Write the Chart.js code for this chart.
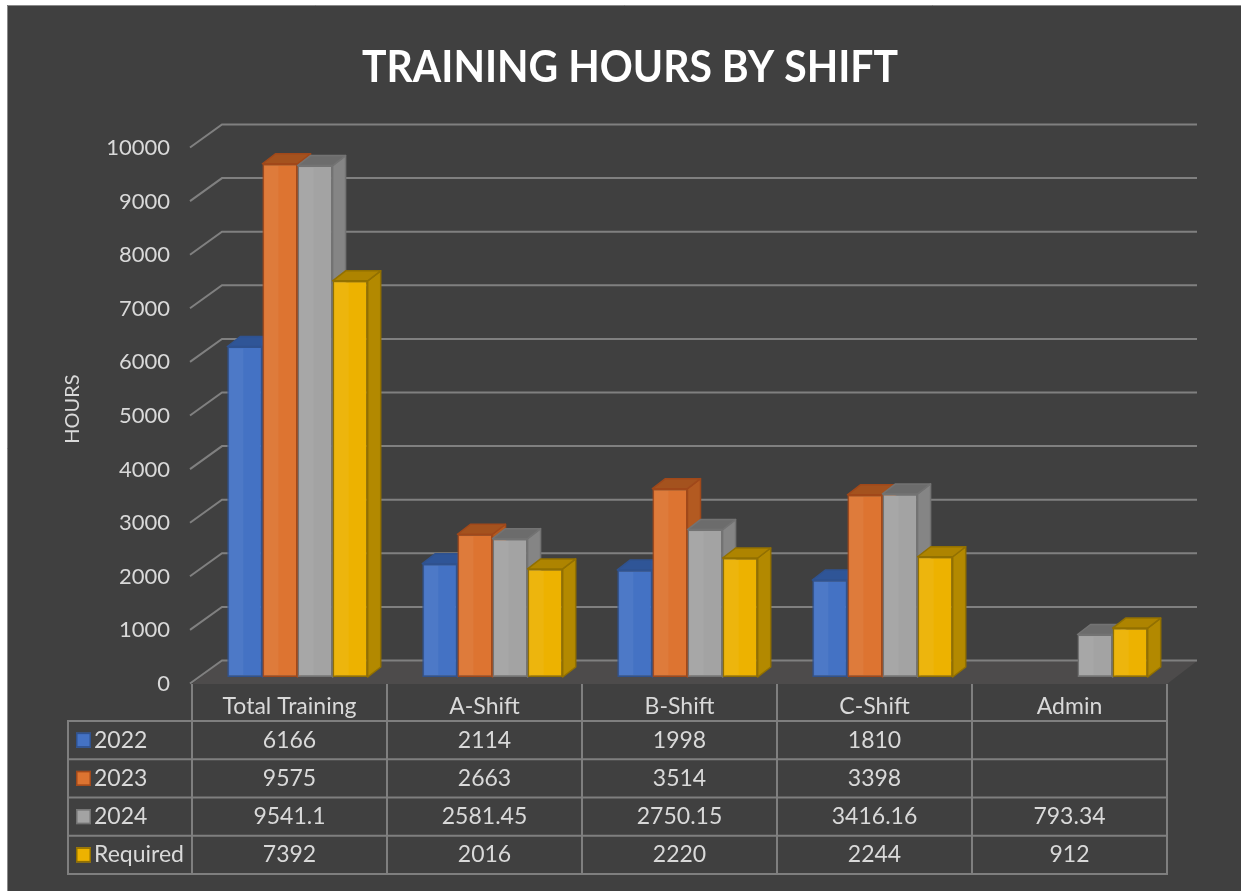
<!DOCTYPE html>
<html>
<head>
<meta charset="utf-8">
<script src="https://cdn.jsdelivr.net/npm/chart.js@4.4.1/dist/chart.umd.min.js"></script>
<style>
html,body{margin:0;padding:0;background:#ffffff;}
canvas{display:block;}
</style>
</head>
<body>
<canvas id="c" width="1241" height="891"></canvas>
<script>
// ---- data ----
const chartTitle = 'TRAINING HOURS BY SHIFT';
const yAxisTitle = 'HOURS';
const categories = ['Total Training', 'A-Shift', 'B-Shift', 'C-Shift', 'Admin'];
const seriesNames = ['2022', '2023', '2024', 'Required'];
const values2022 = [6166, 2114, 1998, 1810, null];
const values2023 = [9575, 2663, 3514, 3398, null];
const values2024 = [9541.1, 2581.45, 2750.15, 3416.16, 793.34];
const valuesRequired = [7392, 2016, 2220, 2244, 912];
const yMin = 0;
const yMax = 10000;
const yStep = 1000;

// ---- styles ----
const FONT = 'Lato, "Open Sans", sans-serif';
const TEXT = '#d9d9d9';
const GRID = '#808080';
const palette = [
  {front: '#4472C4', top: '#2F5597', side: '#2F5597', border: '#2F528F'},
  {front: '#DD7431', top: '#A4521E', side: '#B35A21', border: '#A0481A'},
  {front: '#A3A3A3', top: '#6C6C6C', side: '#858585', border: '#737373'},
  {front: '#EDB200', top: '#AE8400', side: '#B38900', border: '#927000'}
];
const seriesValues = [values2022, values2023, values2024, valuesRequired];
const DX = 13, DY = 10;

const deco = {
  id: 'deco',
  beforeDraw(chart) {
    const {ctx, chartArea: a, scales: {y}} = chart;
    ctx.save();
    ctx.fillStyle = '#ffffff';
    ctx.fillRect(0, 0, chart.width, chart.height);
    ctx.fillStyle = '#404040';
    ctx.fillRect(7, 5, chart.width - 7, chart.height - 5);
    ctx.strokeStyle = '#8a8a8a';
    ctx.lineWidth = 1;
    ctx.beginPath();
    ctx.moveTo(7.5, chart.height); ctx.lineTo(7.5, 5.5); ctx.lineTo(chart.width, 5.5);
    ctx.stroke();
    // floor
    const y0 = y.getPixelForValue(0);
    const fl = a.left - 8, fr = a.right - 8, bl = a.left + 22, br = a.right + 22;
    ctx.fillStyle = '#4d4b4b';
    ctx.beginPath();
    ctx.moveTo(fl, y0 + 7); ctx.lineTo(fr, y0 + 7); ctx.lineTo(br, y0 - 16); ctx.lineTo(bl, y0 - 16);
    ctx.closePath(); ctx.fill();
    // 3D gridlines
    ctx.strokeStyle = GRID;
    ctx.lineWidth = 2;
    y.ticks.forEach(t => {
      const yp = y.getPixelForValue(t.value);
      ctx.beginPath();
      ctx.moveTo(fl - 2, yp + 6.5); ctx.lineTo(bl, yp - 16.5); ctx.lineTo(br, yp - 16.5);
      ctx.stroke();
    });
    ctx.restore();
  },
  beforeDatasetsDraw(chart) {
    const ctx = chart.ctx;
    const items = [];
    chart.data.datasets.forEach((ds, i) => {
      const meta = chart.getDatasetMeta(i);
      if (meta.hidden) return;
      meta.data.forEach((el, j) => {
        if (ds.data[j] == null) return;
        items.push({el, p: palette[i]});
      });
    });
    items.sort((m, n) => m.el.x - n.el.x);
    ctx.save();
    ctx.lineJoin = 'round';
    items.forEach(({el, p}) => {
      const w = el.width, l = el.x - w / 2, r = el.x + w / 2, t = el.y, b = el.base;
      ctx.lineWidth = 1.5;
      ctx.strokeStyle = p.border;
      ctx.fillStyle = p.side;
      ctx.beginPath();
      ctx.moveTo(r, b); ctx.lineTo(r, t); ctx.lineTo(r + DX, t - DY); ctx.lineTo(r + DX, b - DY);
      ctx.closePath(); ctx.fill(); ctx.stroke();
      ctx.fillStyle = p.top;
      ctx.beginPath();
      ctx.moveTo(l, t); ctx.lineTo(l + DX, t - DY); ctx.lineTo(r + DX, t - DY); ctx.lineTo(r, t);
      ctx.closePath(); ctx.fill(); ctx.stroke();
      el.draw(ctx);
      ctx.fillStyle = 'rgba(255,255,255,0.05)';
      ctx.fillRect(l + 2, t + 2, w * 0.4, b - t - 4);
    });
    ctx.restore();
    return false;
  },
  afterDraw(chart) {
    const {ctx, scales: {x, y}} = chart;
    ctx.save();
    // title
    ctx.font = 'bold 44px ' + FONT;
    ctx.fillStyle = '#ffffff';
    ctx.textBaseline = 'alphabetic';
    ctx.textAlign = 'center';
    const tw = ctx.measureText(chartTitle).width;
    const sx = Math.min(1, 536 / tw);
    ctx.translate(630, 82);
    ctx.scale(sx, 1);
    ctx.fillText(chartTitle, 0, 0);
    ctx.restore();

    // data table
    ctx.save();
    const half = (x.getPixelForValue(1) - x.getPixelForValue(0)) / 2;
    const shift = -8;
    const y0 = y.getPixelForValue(0);
    const tableTop = y0 + 7;
    const headBottom = 721;
    const rowH = 38.25;
    const nRows = seriesNames.length;
    const tableBottom = headBottom + rowH * nRows;
    const leftX = 68;
    const cols = categories.map((c, i) => x.getPixelForValue(i) - half + shift);
    cols.push(x.getPixelForValue(categories.length - 1) + half + shift);
    ctx.strokeStyle = '#7f7f7f';
    ctx.lineWidth = 2;
    cols.forEach(cx => {
      ctx.beginPath(); ctx.moveTo(cx, tableTop); ctx.lineTo(cx, tableBottom); ctx.stroke();
    });
    ctx.beginPath(); ctx.moveTo(leftX, headBottom); ctx.lineTo(leftX, tableBottom + 1); ctx.stroke();
    for (let r = 0; r <= nRows; r++) {
      const yy = headBottom + r * rowH;
      ctx.beginPath(); ctx.moveTo(leftX - 1, yy); ctx.lineTo(cols[cols.length - 1] + 1, yy); ctx.stroke();
    }
    ctx.font = '23px ' + FONT;
    ctx.fillStyle = TEXT;
    ctx.textBaseline = 'middle';
    ctx.textAlign = 'center';
    categories.forEach((c, i) => {
      ctx.fillText(c, x.getPixelForValue(i) + shift, 707);
    });
    seriesNames.forEach((name, r) => {
      const cy = headBottom + rowH * (r + 0.5);
      const p = palette[r];
      ctx.fillStyle = p.front;
      ctx.fillRect(76, cy - 7.5, 15, 15);
      ctx.strokeStyle = p.border;
      ctx.lineWidth = 1.5;
      ctx.strokeRect(76.75, cy - 6.75, 13.5, 13.5);
      ctx.fillStyle = TEXT;
      ctx.textAlign = 'left';
      ctx.fillText(name, 94, cy);
      ctx.textAlign = 'center';
      seriesValues[r].forEach((v, i) => {
        if (v == null) return;
        ctx.fillText(String(v), x.getPixelForValue(i) + shift, cy);
      });
    });
    ctx.restore();
  }
};

new Chart(document.getElementById('c'), {
  type: 'bar',
  data: {
    labels: categories,
    datasets: seriesNames.map((name, i) => ({
      label: name,
      data: seriesValues[i],
      backgroundColor: palette[i].front,
      borderColor: palette[i].border,
      borderWidth: 1.5,
      borderSkipped: false
    }))
  },
  options: {
    responsive: false,
    animation: false,
    devicePixelRatio: 1,
    layout: {padding: {left: 57, top: 141, right: 66, bottom: 214}},
    categoryPercentage: 0.72,
    barPercentage: 1,
    plugins: {
      legend: {display: false},
      title: {display: false},
      tooltip: {enabled: false}
    },
    scales: {
      x: {display: false},
      y: {
        min: yMin,
        max: yMax,
        afterFit(scale) { scale.width = 143; },
        border: {display: false},
        grid: {display: false, drawTicks: false},
        ticks: {
          stepSize: yStep,
          padding: 30,
          labelOffset: 7,
          color: TEXT,
          font: {family: FONT, size: 22},
          callback: (v) => String(v)
        },
        title: {
          display: true,
          text: yAxisTitle,
          color: TEXT,
          font: {family: FONT, size: 20}
        }
      }
    }
  },
  plugins: [deco]
});
</script>
</body>
</html>
